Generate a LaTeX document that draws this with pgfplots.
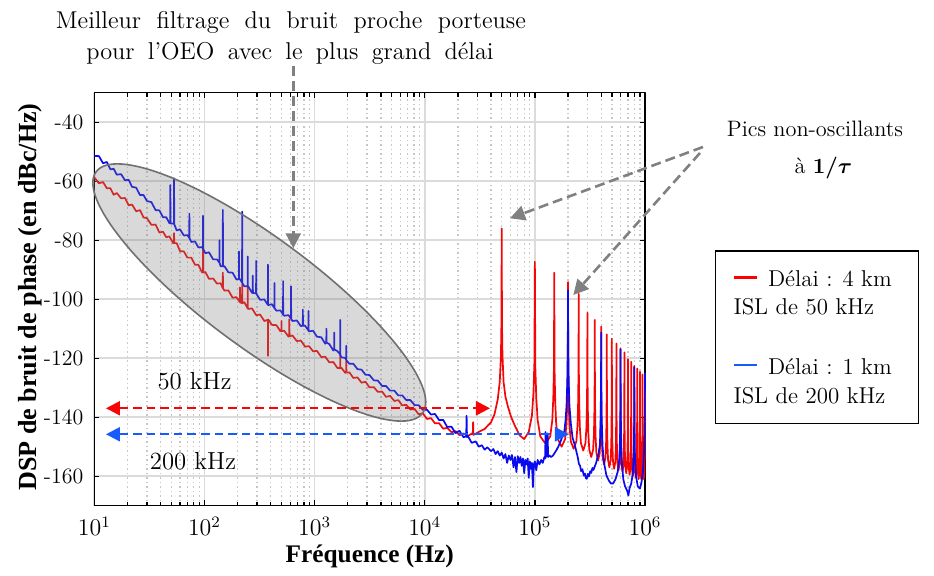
\documentclass[border=0pt]{standalone}
\usepackage{fontspec}
\usepackage{pgfplots}
\pgfplotsset{compat=1.18}
\usetikzlibrary{arrows.meta}
\newfontfamily\timesfont{Liberation Serif}
\definecolor{cred}{RGB}{245,5,5}
\definecolor{cblue}{RGB}{10,10,240}
\definecolor{ablue}{RGB}{25,90,255}
\definecolor{agray}{RGB}{128,128,128}
\begin{document}
\begin{tikzpicture}
\useasboundingbox (0,0) rectangle (467bp,288bp);
\begin{axis}[
  at={(47.15bp,35.15bp)}, anchor=south west,
  scale only axis, width=275.35bp, height=206.5bp,
  xmode=log, xmin=10, xmax=1e6, ymin=-170, ymax=-30,
  ytick={-160,-140,-120,-100,-80,-60,-40},
  yticklabels={-160,-140,-120,-100,-80,-60,-40},
  xtick={10,100,1000,10000,100000,1000000},
  grid=both,
  major grid style={line width=0.9bp, black!14},
  minor grid style={line width=0.65bp, black!22, dash pattern=on 0.65bp off 1.6bp},
  axis line style={line width=0.75bp, black},
  tick style={line width=0.65bp, black},
  major tick length=2.6bp, minor tick length=2bp,
  tick align=inside,
  yticklabel style={font=\fontsize{11}{13}\selectfont, xshift=-2bp},
  xticklabel style={font=\fontsize{11.5}{13}\selectfont, yshift=-2bp},
  clip=false,
  line join=round,
]
\addplot[cred, line width=0.85bp] coordinates {
(10,-58.7) (11,-60.7) (12,-60.3) (13,-62.4) (14,-62.4) (15,-64.6) (16,-64.0) (17.5,-65.8) (19,-65.7) (20.5,-68.2) (22,-67.9) (24,-70.2) (26,-69.8) (28,-72.3) (30,-72.5) (33,-74.8) (36,-74.7) (39,-77.4) (42,-77.1) (45,-79.0) (48,-78.7) (52,-81.0) (52.8,-80.9) (53,-77.6) (53.2,-81.0) (56,-81.0) (60,-83.7) (65,-83.8) (70,-85.9) (76,-85.9) (82,-88.3) (88,-88.3) (95,-90.9) (96.7,-90.9) (97,-81) (97.3,-91) (102,-90.8) (110,-93.1) (120,-93.0) (130,-94.7) (140,-94.6) (146.6,-96.2) (147,-91) (147.4,-96.3) (152,-97.1) (165,-97.0) (180,-99.5) (195,-99.3) (209.5,-101) (210,-96) (210.5,-101.1) (219.5,-101.3) (220,-95) (220.5,-101.4) (230,-101.0) (246.5,-103.1) (247,-95.6) (247.5,-103.2) (250,-103.3) (270,-103.1) (295,-105.4) (320,-105.2) (350,-107.4) (376.5,-107) (377,-119.2) (377.5,-107) (380,-106.9) (410,-108.7) (450,-108.8) (490,-110.9) (499,-110.8) (500,-107.4) (501,-110.8) (530,-110.7) (580,-112.7) (589,-112.6) (590,-106.8) (591,-112.6) (630,-112.3) (690,-114.2) (750,-114.0) (820,-116.1) (890,-115.9) (970,-117.7) (1050,-117.5) (1150,-119.6) (1250,-119.5) (1360,-121.4) (1480,-121.3) (1610,-123.3) (1708,-123.4) (1710,-118.7) (1712,-123.4) (1750,-123.2) (1900,-125.0) (1937,-124.8) (1940,-121) (1943,-124.9) (2070,-124.8) (2250,-126.7) (2450,-126.5) (2670,-128.3) (2900,-128.0) (3150,-129.9) (3450,-129.8) (3750,-131.4) (4100,-131.3) (4450,-133.1) (4850,-132.8) (5300,-134.5) (5750,-134.2) (6250,-136.0) (6800,-135.8) (7400,-137.4) (8100,-137.2) (8800,-139.0) (9600,-138.7) (10500,-140.6) (11400,-140.3) (12400,-142.1) (13500,-142.0) (14700,-143.9) (16000,-143.6) (17500,-145.1) (19000,-144.7) (20700,-146.1) (22500,-145.5) (24500,-146.4) (26700,-145.6) (27300,-145.8) (27500,-141.7) (27700,-146.0) (29000,-145.6) (31600,-144.8)
(35000,-144) (40000,-141.7) (43000,-139) (46000,-134) (48000,-128) (49200,-119) (49700,-108) (50000,-76) (50300,-108) (50800,-119) (52000,-128) (54000,-133) (57000,-136.5) (61000,-140) (66000,-143) (73000,-146.2) (80000,-147.4)
(88000,-145) (94000,-139.5) (97000,-132) (99000,-121.5) (100000,-87.3) (101000,-123) (103000,-133.5) (106000,-141) (112000,-146.5) (125000,-149)
(138000,-146.5) (144000,-141) (147000,-133.5) (149000,-123) (150000,-91) (151000,-124) (153000,-134.5) (156000,-142) (162000,-147.5) (175000,-150)
(188000,-147.5) (194000,-142) (197000,-134.5) (199000,-124) (200000,-94.2) (201000,-124.7) (203000,-135.2) (206000,-142.7) (212000,-148.2) (225000,-150.7)
(238000,-148.2) (244000,-142.7) (247000,-135.2) (249000,-124.7) (250000,-98.2) (251000,-125.3) (253000,-135.8) (256000,-143.3) (262000,-148.8) (275000,-151.3)
(288000,-148.8) (294000,-143.3) (297000,-135.8) (299000,-125.3) (300000,-104.6) (301000,-127.5) (303000,-138) (306000,-145.5) (312000,-151) (325000,-153.5)
(338000,-151) (344000,-145.5) (347000,-138) (349000,-127.5) (350000,-107) (351000,-128.7) (353000,-139.2) (356000,-146.7) (362000,-152.2) (375000,-154.7)
(388000,-152.2) (394000,-146.7) (397000,-139.2) (399000,-128.7) (400000,-109.3) (401000,-130) (403000,-140.5) (406000,-148) (412000,-153.5) (425000,-156)
(438000,-153.5) (444000,-148) (447000,-140.5) (449000,-130) (450000,-111.9) (451000,-131) (453000,-141.5) (456000,-149) (462000,-154.5) (475000,-157)
(488000,-154.5) (494000,-149) (497000,-141.5) (499000,-131) (500000,-113.4) (501000,-131.5) (503000,-142) (506000,-149.5) (512000,-155) (525000,-157.5)
(538000,-155) (544000,-149.5) (547000,-142) (549000,-131.5) (550000,-115) (551000,-132) (553000,-142.5) (556000,-150) (562000,-155.5) (575000,-158)
(588000,-155.5) (594000,-150) (597000,-142.5) (599000,-132) (600000,-116.7) (601000,-132.5) (603000,-143) (606000,-150.5) (612000,-156) (625000,-158.5)
(638000,-156) (644000,-150.5) (647000,-143) (649000,-132.5) (650000,-118) (651000,-133) (653000,-143.5) (656000,-151) (662000,-156.5) (675000,-159)
(688000,-156.5) (694000,-151) (697000,-143.5) (699000,-133) (700000,-120.3) (701000,-133.5) (703000,-144) (706000,-151.5) (712000,-157) (725000,-159.5)
(738000,-157) (744000,-151.5) (747000,-144) (749000,-133.5) (750000,-121.2) (751000,-134) (753000,-144.5) (756000,-152) (762000,-157.5) (775000,-160)
(788000,-157.5) (794000,-152) (797000,-144.5) (799000,-134) (800000,-122.6) (801000,-134.5) (803000,-145) (806000,-152.5) (812000,-158) (825000,-160.5)
(838000,-158) (844000,-152.5) (847000,-145) (849000,-134.5) (850000,-123.5) (851000,-135) (853000,-145.5) (856000,-153) (862000,-158.5) (875000,-161)
(888000,-158.5) (894000,-153) (897000,-145.5) (899000,-135) (900000,-124.6) (901000,-135) (903000,-145.5) (906000,-153) (912000,-158.5) (925000,-161)
(938000,-158.5) (944000,-153) (947000,-145.5) (949000,-135) (950000,-125.5) (951000,-135) (953000,-145.5) (956000,-153) (962000,-158.5) (975000,-161)
(988000,-158.5) (994000,-153) (997000,-145.5) (999000,-135) (1000000,-126.5)
};
\addplot[cblue, line width=0.85bp] coordinates {
(10,-51.4) (11,-51.5) (12,-53.9) (13,-53.5) (14,-56.0) (15,-55.8) (16,-57.8) (17.5,-57.6) (19,-59.7) (20.5,-59.5) (22,-61.9) (24,-62.2) (26,-64.7) (28,-64.7) (30,-66.7) (33,-67.1) (36,-69.8) (39,-69.9) (42,-72.2) (45,-72.2) (48,-74.2) (48.8,-74.3) (49,-61.3) (49.2,-74.3) (52,-74.4) (52.8,-74.5) (53,-59) (53.2,-74.6) (56,-76.7) (60,-76.3) (65,-78.4) (70,-78.3) (72.8,-79.2) (73,-71) (73.2,-79.3) (76,-80.6) (82,-80.4) (88,-82.4) (95,-82.4) (96.7,-82.8) (97,-71.7) (97.3,-82.9) (102,-84.4) (110,-84.1) (120,-86.5) (130,-86.5) (136.6,-87.6) (137,-80) (137.4,-87.7) (140,-88.8) (146.6,-88.8) (147,-69.7) (147.4,-88.9) (152,-88.8) (165,-90.9) (180,-91.0) (195,-93.3) (205.5,-93.2) (206,-83.8) (206.5,-93.2) (210,-93.2) (219.5,-94.4) (220,-70.3) (220.5,-94.5) (230,-95.6) (246.5,-95.6) (247,-85.5) (247.5,-95.7) (250,-95.7) (270,-97.8) (274.5,-97.9) (275,-92) (275.5,-97.9) (294.2,-98.0) (295,-87) (295.8,-98.1) (320,-100.2) (350,-100.1) (376.5,-101.9) (377,-88.3) (377.5,-101.9) (380,-102.0) (410,-101.7) (431.5,-103) (432,-94.5) (432.5,-103) (450,-103.9) (490,-103.8) (517.5,-105.2) (518,-93.9) (518.5,-105.3) (530,-105.6) (580,-105.4) (611,-106.6) (612,-95.6) (613,-106.7) (630,-107.4) (690,-107.2) (750,-109.1) (782,-109) (783,-103.5) (784,-109) (820,-109.0) (879,-110.6) (880,-104) (881,-110.7) (890,-110.9) (970,-110.7) (1050,-112.7) (1150,-112.9) (1250,-115.1) (1278,-114.6) (1280,-110) (1282,-114.7) (1360,-115.2) (1480,-117.4) (1508,-116.9) (1510,-111.3) (1512,-117) (1610,-117.6) (1708,-118.7) (1710,-107) (1712,-118.8) (1750,-119.7) (1900,-119.9) (1937,-120.6) (1940,-115.8) (1943,-120.7) (2070,-121.9) (2250,-121.9) (2450,-123.7) (2670,-123.9) (2900,-125.6) (3150,-125.7) (3450,-127.5) (3750,-127.6) (4100,-129.4) (4450,-129.4) (4850,-131.0) (5300,-131.0) (5750,-132.6) (6250,-132.6) (6800,-134.2) (7400,-134.2) (8100,-135.9) (8800,-135.9) (9600,-137.5) (10500,-137.5) (11400,-139.1) (12400,-138.9) (13500,-141.0) (14700,-140.9) (16000,-143.3) (17500,-143.2) (19000,-145.4) (20700,-144.6) (22500,-146.8) (23800,-146.5) (24000,-139.5) (24200,-146.8) (24500,-146.2) (26700,-148.7) (29000,-148.2)
(31000,-150) (33000,-149.5) (35000,-151) (37000,-150.2) (40000,-151.5) (42000,-150.8) (44000,-152.5) (46000,-151.5) (48000,-153) (50000,-152) (52000,-154) (54000,-152.5) (56000,-155.5) (58000,-153) (60000,-154.5) (62000,-152.8) (64000,-157) (66000,-153.5) (68000,-158.6) (70000,-153.2) (72000,-155.5) (74000,-153.5) (76000,-156.5) (78000,-154) (80000,-159) (82000,-154.5) (84000,-156) (86000,-154) (88000,-160.5) (90000,-155) (92000,-157.5) (94000,-155.5) (96000,-163.7) (98000,-156) (100000,-155) (103000,-158) (106000,-154.5) (110000,-156) (114000,-154.5) (118000,-155.5) (122000,-153.5) (124000,-154) (125000,-145) (126000,-153.5) (128000,-153) (130500,-145.5) (132000,-153.5) (136000,-153) (140000,-153.5) (146000,-153) (152000,-152) (158000,-151) (165000,-149.6) (172000,-148) (180000,-146) (185000,-145) (190000,-141) (194000,-136) (197000,-128) (199000,-117) (200000,-97) (201000,-117) (203000,-128) (206000,-136) (212000,-142) (220000,-147) (231000,-149.6)
(245000,-153.5) (251000,-155.8) (257000,-156.4) (263000,-158.3) (270000,-157.6) (278000,-159.8) (285000,-159.1) (290000,-160.6) (296000,-160.9) (303000,-159.2) (310000,-160.1) (318000,-158.3) (325000,-158.9) (333000,-157.2) (340000,-157.9) (360000,-155.5) (380000,-152) (390000,-149) (396000,-140) (399000,-128) (400000,-111.3) (401000,-128) (404000,-140) (412000,-150) (425000,-155.5) (446000,-159.7) (470000,-161.5) (490000,-162.5) (513000,-162.5) (540000,-161) (565000,-158.5) (585000,-154) (594000,-146) (598500,-135) (600000,-117) (601500,-135) (606000,-146) (615000,-155) (635000,-161) (660000,-163.5) (690000,-165) (707000,-166.5) (725000,-164) (750000,-162.5) (775000,-159) (790000,-153) (797000,-142) (800000,-123) (803000,-142) (810000,-153) (830000,-160) (860000,-163.5) (900000,-164.2) (930000,-162) (960000,-158) (985000,-150) (995000,-138) (1000000,-125)
};
\end{axis}
% ellipse on top
\draw[draw=black!56, line width=0.8bp, fill=gray, fill opacity=0.3, rotate around={-36.5:(129.65bp,141.75bp)}] (129.65bp,141.75bp) ellipse (101.5bp and 27.5bp);
\begin{scope}[shift={(0bp,288bp)}, x=0.5bp, y=-0.5bp]
  % dashed double arrows
  \draw[cred, line width=1.1bp, dash pattern=on 4.3bp off 2.5bp, {Triangle[length=7bp,width=7bp]}-{Triangle[length=7bp,width=7bp]}] (106,408.3) -- (490,408.3);
  \draw[ablue, line width=1.1bp, dash pattern=on 4.3bp off 2.5bp, {Triangle[length=7bp,width=7bp]}-{Triangle[length=7bp,width=7bp]}] (106,434.3) -- (569,434.3);
  % gray arrows
  \draw[agray, line width=1.3bp, dash pattern=on 5bp off 2.5bp, -{Triangle[length=7.5bp,width=7.5bp]}] (293.3,66) -- (293.3,248.3);
  \draw[agray, line width=1.3bp, dash pattern=on 5bp off 2.5bp, -{Triangle[length=7.5bp,width=7.5bp]}] (703,147) -- (510,218.3);
  \draw[agray, line width=1.3bp, dash pattern=on 5bp off 2.5bp, -{Triangle[length=7.5bp,width=7.5bp]}] (700,153) -- (573.3,295);
  % texts
  \node[anchor=base, inner sep=0pt, font=\fontsize{12.2}{14}\selectfont] at (290.9,28.3) {\makebox[235bp][s]{Meilleur filtrage du bruit proche porteuse}};
  \node[anchor=base, inner sep=0pt, font=\fontsize{12.2}{14}\selectfont] at (290,59.3) {\makebox[203.6bp][s]{pour l'OEO avec le plus grand délai}};
  \node[anchor=base, inner sep=0pt, font=\fontsize{11.2}{13}\selectfont] at (815,137) {Pics non-oscillants};
  \node[anchor=base, inner sep=0pt, font=\fontsize{11.2}{13}\selectfont] at (823.5,174) {à {\boldmath$1/\tau$}};
  \node[anchor=base, inner sep=0pt, font=\fontsize{12.4}{14}\selectfont] at (194.6,390) {50 kHz};
  \node[anchor=base, inner sep=0pt, font=\fontsize{12.4}{14}\selectfont] at (193,469.3) {200 kHz};
  % legend
  \draw[black, line width=0.75bp] (715.7,251) rectangle (918.3,423.3);
  \draw[red, line width=1.3bp] (734.3,277.7) -- (756.7,277.7);
  \draw[ablue, line width=1.3bp] (734.3,365) -- (756.7,365);
  \node[anchor=base west, inner sep=0pt, font=\fontsize{11.5}{13}\selectfont] at (767.7,286.7) {Délai : 4 km};
  \node[anchor=base west, inner sep=0pt, font=\fontsize{11.5}{13}\selectfont] at (733.3,314.3) {ISL de 50 kHz};
  \node[anchor=base west, inner sep=0pt, font=\fontsize{11.5}{13}\selectfont] at (767.7,374.3) {Délai : 1 km};
  \node[anchor=base west, inner sep=0pt, font=\fontsize{11.5}{13}\selectfont] at (733.3,403.3) {ISL de 200 kHz};
  % axis labels
  \node[anchor=base, inner sep=0pt, font=\timesfont\bfseries\fontsize{12.7}{14}\selectfont] at (369.7,563) {Fréquence (Hz)};
  \node[anchor=base, inner sep=0pt, rotate=90, font=\timesfont\bfseries\fontsize{13.1}{15}\selectfont] at (36,297) {DSP de bruit de phase (en dBc/Hz)};
\end{scope}
\end{tikzpicture}
\end{document}
